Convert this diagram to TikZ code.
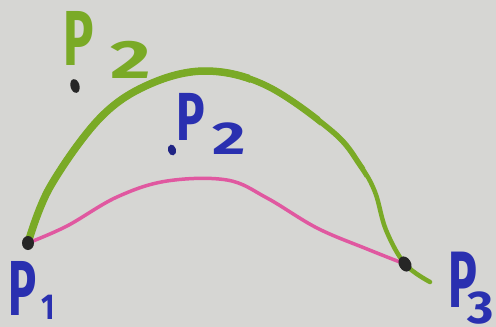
\documentclass[tikz,border=0pt]{standalone}
\usepackage{fontspec}
\usetikzlibrary{shapes.geometric}
\setmainfont{Fira Sans}
\begin{document}
\begin{tikzpicture}[x=1pt,y=-1pt,
  gline/.style={draw=lgreen, line cap=round, line join=round},
  pline/.style={draw=lpink, line width=3.5pt, line cap=round, line join=round},
  blab/.style={text=lblue, font=\bfseries, inner sep=0pt},
  glab/.style={text=lgreen, font=\bfseries, inner sep=0pt},
  dotb/.style={fill=black!85, draw=none, ellipse, inner sep=0pt, minimum width=12pt, minimum height=14pt}]
\definecolor{bg}{RGB}{214,214,211}
\definecolor{lgreen}{RGB}{122,170,38}
\definecolor{lpink}{RGB}{224,88,160}
\definecolor{lblue}{RGB}{42,48,176}
\fill[bg] (0,0) rectangle (496,327);
\useasboundingbox (0,0) rectangle (496,327);
% points
\coordinate (p1) at (28,243);
\coordinate (p3) at (405,264);
\coordinate (gend) at (430,282);
\def\greenpath{plot[smooth, tension=0.6] coordinates {(p1) (50,187) (100,118) (150,84) (207,71) (267,86) (333,132) (360,165) (375,192) (386,230) (p3) (gend)}}
% green curve, tapering towards P3
\draw[gline, line width=4.5pt] \greenpath;
\begin{scope}
\clip (0,0) rectangle (365,327);
\draw[gline, line width=5.5pt] \greenpath;
\end{scope}
\begin{scope}
\clip (0,0) rectangle (320,327);
\draw[gline, line width=6.5pt] \greenpath;
\end{scope}
\begin{scope}
\clip (0,0) rectangle (250,327);
\draw[gline, line width=7.5pt] \greenpath;
\end{scope}
% pink curve
\draw[pline] plot[smooth, tension=0.6] coordinates {(p1) (67,226) (117,197) (167,181) (227,180) (267,198) (317,228) (367,249) (p3)};
% end dots
\node[dotb] (d1) at (p1) {};
\node[dotb, minimum width=12pt, minimum height=16pt, rotate=30] (d3) at (p3) {};
% green P2
\node[fill=black!85, ellipse, inner sep=0pt, minimum width=9pt, minimum height=14pt, rotate=15] (gd) at (75,86) {};
\node[glab, font=\bfseries\fontsize{78}{78}\selectfont, xscale=0.65] (gP) at (79,38) {P};
\node[glab, font=\bfseries\fontsize{54}{54}\selectfont, xscale=1.45] (gS) at (131,60) {2};
% blue P2
\node[fill=lblue!75!black, ellipse, inner sep=0pt, minimum width=8pt, minimum height=11pt, rotate=15] (bd) at (172,150) {};
\node[blab, font=\bfseries\fontsize{68}{68}\selectfont, xscale=0.7] (bP) at (191,117) {P};
\node[blab, font=\bfseries\fontsize{46}{46}\selectfont, xscale=1.4] (bS) at (229,139) {2};
% P1
\node[blab, font=\bfseries\fontsize{78}{78}\selectfont, xscale=0.6] (aP) at (23,288) {P};
\node[blab, font=\bfseries\fontsize{36}{36}\selectfont, xscale=0.8] (aS) at (48,307) {1};
% P3
\node[blab, font=\bfseries\fontsize{80}{80}\selectfont, xscale=0.6] (cP) at (463,280) {P};
\node[blab, font=\bfseries\fontsize{46}{46}\selectfont, xscale=1.1] (cS) at (481,308) {3};
\end{tikzpicture}
\end{document}
